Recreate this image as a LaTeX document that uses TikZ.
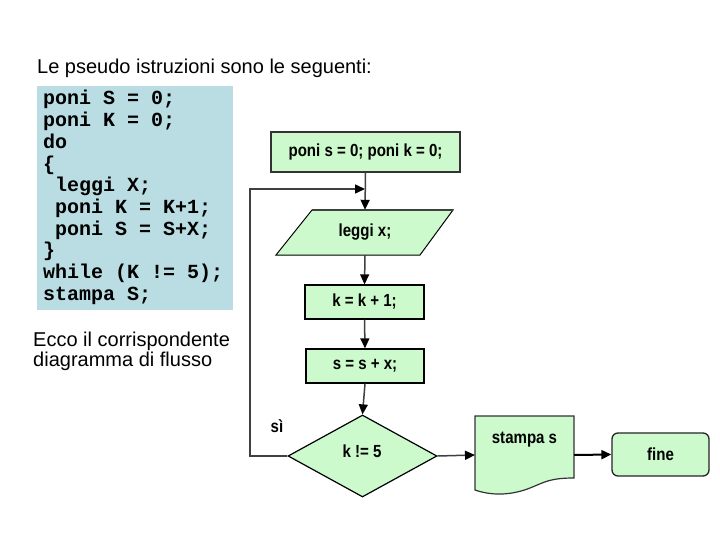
\documentclass[tikz,border=0pt]{standalone}
\usepackage{fontspec}
\setmainfont{Liberation Sans}
\newfontfamily\codefont{Liberation Mono}
\newfontfamily\fcfont[FakeStretch=0.86]{Liberation Sans Bold}
\usetikzlibrary{shapes.geometric,arrows.meta}
\definecolor{codebg}{RGB}{185,221,227}
\definecolor{fcgreen}{RGB}{204,250,204}
\definecolor{linegray}{RGB}{64,64,64}
\tikzset{
  code/.style={inner sep=0pt, font=\codefont\bfseries\fontsize{20}{21.7}\selectfont},
  plain/.style={inner sep=0pt, font=\fontsize{20}{20}\selectfont},
  fctext/.style={font=\fcfont\fontsize{17.5}{19}\selectfont},
  proc/.style={draw=black, line width=1.3pt, fill=fcgreen, inner sep=0pt, fctext},
  conn/.style={draw=linegray, line width=1.5pt},
  arr/.style={conn, -{Triangle[length=10pt,width=9pt,color=black]}},
}
\begin{document}
\begin{tikzpicture}[x=1pt,y=-1pt]
\useasboundingbox (0,0) rectangle (720,540);
\fill[white] (0,0) rectangle (720,540);

% title
\node[plain, anchor=base west] (title) at (37,74) {Le pseudo istruzioni sono le seguenti:};

% code box
\fill[codebg] (37,86) rectangle (233,310);
\foreach \t [count=\i] in {{poni S = 0;},{poni K = 0;},{do},{\{},{\ leggi X;},{\ poni K = K+1;},{\ poni S = S+X;},{\}},{while (K != 5);},{stampa S;}}
  \node[code, anchor=base west] (c\i) at (43,{105+21.7*(\i-1)}) {\t};

% caption
\node[plain, anchor=north west, align=left] (ecco) at (33,332) {Ecco il corrispondente\\diagramma di flusso};

% flowchart
\node[proc, draw=black!80, minimum width=189, minimum height=40] (init) at (365.5,152) {poni s = 0; poni k = 0;};

\node[fctext, minimum width=144, minimum height=45, inner sep=0pt] (leggi) at (365,232.5) {};
\path[fill=fcgreen, draw=black, line width=1pt] (276,255) -- (312,210) -- (453,210) -- (420,255) -- cycle;
\draw[line width=2.2pt, draw=linegray] (312,210) -- (453,210);
\node[fctext] (leggitext) at (leggi) {leggi x;};

\node[proc, minimum width=119, minimum height=34] (k) at (364.5,302) {k = k + 1;};
\node[proc, minimum width=118, minimum height=34] (s) at (365,366) {s = s + x;};

\node[diamond, draw=black, line width=1.2pt, fill=fcgreen, minimum width=149, minimum height=82, inner sep=0pt] (dec) at (362.5,456) {};
\node[fctext] (dectext) at (362,451) {k != 5};

\node[fctext] (si) at (277,426) {sì};

% document shape
\path[fill=fcgreen, draw=black!80, line width=1.2pt] (475,416) -- (574,416) -- (574,478)
  .. controls (550,478) and (545,482) .. (530,488)
  .. controls (515,494) and (495,497) .. (475,490) -- cycle;
\node[fctext] (doc) at (524.5,440) {stampa s};
\coordinate (docW) at (475,455);
\coordinate (docE) at (574,455);

\node[draw=black!85, line width=1.3pt, fill=fcgreen, rounded corners=6pt, minimum width=97, minimum height=43, inner sep=0pt, fctext] (fine) at (660.5,454.5) {fine};

% connectors
\coordinate (loopin) at (365,189);
\draw[arr] (init.south) -- (leggi.north);
\draw[arr] (dec.west) -- ++(-37.5,0) |- (loopin);
\draw[arr] (leggi.south) -- (k.north);
\draw[arr] (k.south) -- (s.north);
\draw[arr] (s.south) -- (dec.north);
\draw[arr] (dec.east) -- (docW);
\draw[arr, draw=black, line width=2pt] (docE) -- (fine.west);
\end{tikzpicture}
\end{document}
